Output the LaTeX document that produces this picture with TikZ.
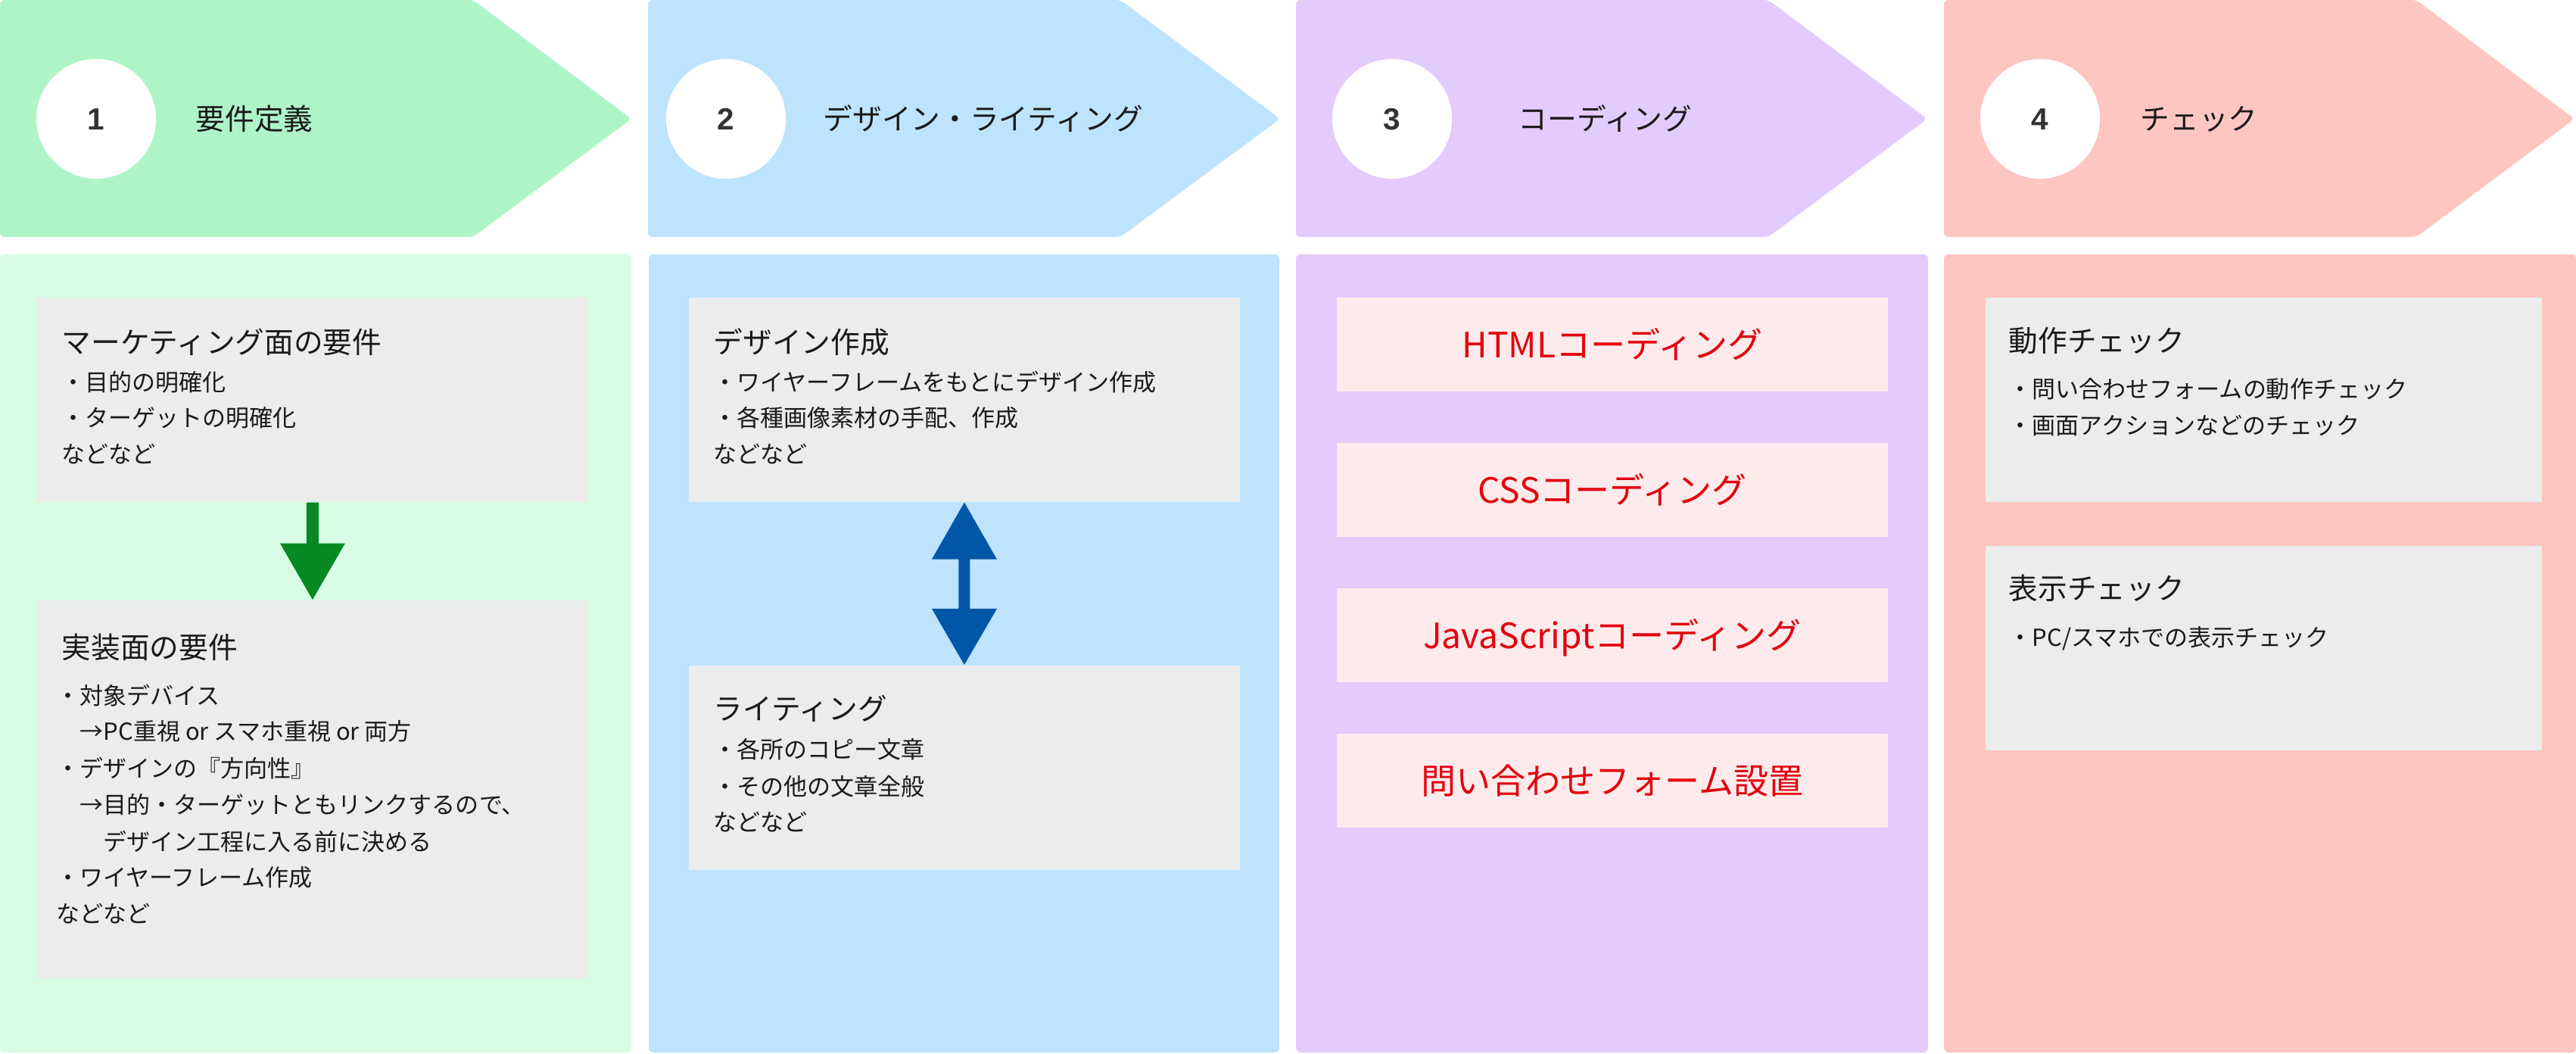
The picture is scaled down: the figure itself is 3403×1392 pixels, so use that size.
\documentclass[tikz,border=0pt]{standalone}
\usepackage{fontspec}
\setmainfont{Noto Sans CJK JP}
\newfontfamily\numfont{Liberation Sans}
\usetikzlibrary{calc}
\definecolor{hgreen}{HTML}{AFF4C6}
\definecolor{pgreen}{HTML}{D8FDE4}
\definecolor{cblue}{HTML}{BEE3FC}
\definecolor{cpurple}{HTML}{E3CBFD}
\definecolor{cred}{HTML}{FDC6C1}
\definecolor{boxgray}{HTML}{EBECEC}
\definecolor{boxpink}{HTML}{FDEBEB}
\definecolor{redtext}{HTML}{E3000F}
\definecolor{arrgreen}{HTML}{068822}
\definecolor{arrblue}{HTML}{0057A8}
\definecolor{ink}{HTML}{1A1A1A}
\definecolor{numink}{HTML}{333333}
\newcommand\bodyfnt{\fontsize{8.82pt}{10pt}\selectfont}
\newcommand\titlefnt{\fontsize{11.0pt}{13pt}\selectfont}
\newcommand\redfnt{\fontsize{13.1pt}{15pt}\selectfont}
\newcommand\numfnt{\numfont\bfseries\fontsize{11.5pt}{13pt}\selectfont}
\tikzset{
  hdr/.style={rounded corners=0.06cm},
  panel/.style={rounded corners=0.06cm},
  numc/.style={circle, fill=white, minimum size=1.58cm, inner sep=0pt, text=numink, font=\numfnt, text height=0.29cm, text depth=0pt},
  htitle/.style={anchor=west, inner sep=0pt, text=ink, font=\titlefnt, text height=0.343cm, text depth=0.047cm},
  btitle/.style={anchor=west, inner sep=0pt, text=ink, font=\titlefnt, text height=0.343cm, text depth=0.047cm},
  bline/.style={anchor=west, inner sep=0pt, text=ink, font=\bodyfnt, text height=0.273cm, text depth=0.037cm},
  gbox/.style={anchor=north west, fill=boxgray, inner sep=0pt, minimum width=7.28cm, minimum height=2.70cm},
  pbox/.style={anchor=north west, fill=boxpink, inner sep=0pt, minimum width=7.28cm, minimum height=1.24cm, text=redtext, font=\redfnt, text height=0.405cm, text depth=0.055cm},
}
\begin{document}
\begin{tikzpicture}[x=0.01cm,y=-0.01cm]
\useasboundingbox (0,0) rectangle (3403,1392);
\fill[white] (0,0) rectangle (3403,1392);
% headers
\fill[hgreen,hdr] (0,0) -- (625,0) -- (834,157) -- (625,313) -- (0,313) -- cycle;
\fill[cblue,hdr] (856,0) -- (1480,0) -- (1691,157) -- (1480,313) -- (856,313) -- cycle;
\fill[cpurple,hdr] (1712,0) -- (2336,0) -- (2546,157) -- (2336,313) -- (1712,313) -- cycle;
\fill[cred,hdr] (2568,0) -- (3192,0) -- (3401,157) -- (3192,313) -- (2568,313) -- cycle;
\node[numc] (n1) at (127,157) {1};
\node[numc] (n2) at (959,157) {2};
\node[numc] (n3) at (1839,157) {3};
\node[numc] (n4) at (2695,157) {4};
\node[htitle] (h1) at (258,157) {要件定義};
\node[htitle] (h2) at (1087,157) {デザイン・ライティング};
\node[htitle] (h3) at (2005,157) {コーディング};
\node[htitle] (h4) at (2827,157) {チェック};
% panels
\fill[pgreen,panel] (0,336) rectangle (834,1390);
\fill[cblue,panel] (857,336) rectangle (1690,1390);
\fill[cpurple,panel] (1712,336) rectangle (2547,1390);
\fill[cred,panel] (2568,336) rectangle (3403,1390);
% column 1
\node[gbox] (g1) at (48,392) {};
\node[gbox, minimum height=4.99cm] (g2) at (48,792) {};
\node[btitle] (t1a) at (81,452) {マーケティング面の要件};
\node[bline] (l1a) at (81,505) {・目的の明確化};
\node[bline] (l1b) at (81,552) {・ターゲットの明確化};
\node[bline] (l1c) at (81,600) {などなど};
\node[btitle] (t1b) at (81,855) {実装面の要件};
\node[bline] (l2a) at (74,919) {・対象デバイス};
\node[bline] (l2b) at (74,966) {　→PC重視 or スマホ重視 or 両方};
\node[bline] (l2c) at (74,1015) {・デザインの『方向性』};
\node[bline] (l2d) at (74,1063) {　→目的・ターゲットともリンクするので、};
\node[bline] (l2e) at (74,1112) {　　デザイン工程に入る前に決める};
\node[bline] (l2f) at (74,1159) {・ワイヤーフレーム作成};
\node[bline] (l2g) at (74,1207) {などなど};
\fill[arrgreen] ($(g1.south)+(-8,0)$) -- ($(g1.south)+(8,0)$) -- ($(g1.south)+(8,54)$)
  -- ($(g1.south)+(43,54)$) -- (g2.north) -- ($(g1.south)+(-43,54)$) -- ($(g1.south)+(-8,54)$) -- cycle;
% column 2
\node[gbox] (g3) at (909,392) {};
\node[gbox] (g4) at (909,878) {};
\node[btitle] (t2a) at (942,452) {デザイン作成};
\node[bline] (l3a) at (942,505) {・ワイヤーフレームをもとにデザイン作成};
\node[bline] (l3b) at (942,552) {・各種画像素材の手配、作成};
\node[bline] (l3c) at (942,600) {などなど};
\node[btitle] (t2b) at (942,936) {ライティング};
\node[bline] (l4a) at (942,990) {・各所のコピー文章};
\node[bline] (l4b) at (942,1039) {・その他の文章全般};
\node[bline] (l4c) at (942,1086) {などなど};
\fill[arrblue] (g3.south) -- ($(g3.south)+(43,75)$) -- ($(g3.south)+(7.5,75)$) -- ($(g4.north)+(7.5,-74)$)
  -- ($(g4.north)+(43,-74)$) -- (g4.north) -- ($(g4.north)+(-43,-74)$) -- ($(g4.north)+(-7.5,-74)$)
  -- ($(g3.south)+(-7.5,75)$) -- ($(g3.south)+(-43,75)$) -- cycle;
% column 3
\node[pbox] (p1) at (1765,392) {HTMLコーディング};
\node[pbox] (p2) at (1765,584) {CSSコーディング};
\node[pbox] (p3) at (1765,776) {JavaScriptコーディング};
\node[pbox] (p4) at (1765,968) {問い合わせフォーム設置};
% column 4
\node[gbox, minimum width=7.35cm] (g5) at (2622,392) {};
\node[gbox, minimum width=7.35cm] (g6) at (2622,720) {};
\node[btitle] (t4a) at (2653,450) {動作チェック};
\node[bline] (l5a) at (2653,514) {・問い合わせフォームの動作チェック};
\node[bline] (l5b) at (2653,562) {・画面アクションなどのチェック};
\node[btitle] (t4b) at (2653,777) {表示チェック};
\node[bline] (l6a) at (2653,842) {・PC/スマホでの表示チェック};
\end{tikzpicture}
\end{document}
